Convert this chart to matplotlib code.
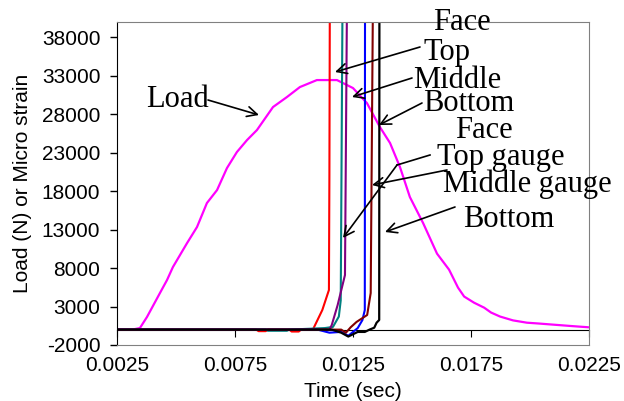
import numpy as np
import matplotlib
matplotlib.use("Agg")
import matplotlib.pyplot as plt

plt.rcParams['axes.unicode_minus'] = False

# ===================== ДАННЫЕ =====================
# Нагрузка (Load), Н
load_t = [0.0025, 0.00314, 0.00347, 0.00377, 0.00432, 0.00462, 0.00487, 0.00547,
          0.00589, 0.00631, 0.00674, 0.00716, 0.00758, 0.00801, 0.00843, 0.00911,
          0.00970, 0.01025, 0.01097, 0.01182, 0.01250, 0.01309, 0.01364, 0.01407,
          0.01449, 0.01491, 0.01547, 0.01606, 0.01657, 0.01695, 0.01721, 0.01763,
          0.01806, 0.01835, 0.01873, 0.01928, 0.01987, 0.02034, 0.02097, 0.02182,
          0.0225]
load_v = [0, 0, 200, 1640, 4760, 6450, 8140, 11260,
          13340, 16460, 18150, 21010, 23090, 24650, 25950, 28940,
          30240, 31540, 32450, 32450, 31410, 29460, 26340, 24260,
          21140, 17240, 13860, 9880, 7800, 5460, 4300, 3500,
          2850, 2220, 1700, 1200, 900, 800, 650, 450,
          300]

# Тензометры (Micro strain)
red_t = [0.0025, 0.0084, 0.0085, 0.0088, 0.0089, 0.0098, 0.0099, 0.0102, 0.0103,
         0.0108, 0.0112, 0.01148, 0.01150, 0.01152]
red_v = [0, 0, -200, -200, 0, 0, -250, -250, 0,
         0, 2550, 5150, 20000, 45000]

teal_t = [0.0025, 0.0088, 0.0089, 0.0097, 0.0098, 0.0113, 0.01165, 0.0119,
          0.01198, 0.01206]
teal_v = [0, 0, -150, -150, 0, 200, 350, 1700,
          3800, 45000]

purple_t = [0.0025, 0.0115, 0.0116, 0.01185, 0.01216, 0.01225]
purple_v = [0, 0, 600, 3200, 7100, 45000]

blue_t = [0.0025, 0.0110, 0.0115, 0.0120, 0.0123, 0.0125, 0.0127, 0.0129,
          0.01300, 0.01301]
blue_v = [0, 0, -400, -300, -800, -300, 200, 1250,
          2550, 45000]

darkred_t = [0.0025, 0.0120, 0.0122, 0.0124, 0.01265, 0.0129, 0.01310, 0.01325,
             0.01335]
darkred_v = [0, 0, -400, 300, 1000, 1500, 1900, 4760,
             45000]

black_t = [0.0025, 0.0116, 0.0120, 0.0123, 0.0125, 0.0127, 0.0130, 0.0132,
           0.0134, 0.0135, 0.01361, 0.01362]
black_v = [0, 0, -400, -900, -600, -300, -300, 0,
           250, 900, 1250, 45000]

x_ticks = [0.0025, 0.0075, 0.0125, 0.0175, 0.0225]
y_ticks = [-2000, 3000, 8000, 13000, 18000, 23000, 28000, 33000, 38000]

# ===================== ГРАФИК =====================
W, H = 624, 401
fig = plt.figure(figsize=(W / 100, H / 100), dpi=100)
ax = fig.add_axes([117 / W, 1 - 345 / H, (589 - 117) / W, (345 - 22) / H])

ax.plot(load_t, load_v, color='#FF00FF', lw=1.6)
ax.plot(red_t, red_v, color='#FF0000', lw=1.5)
ax.plot(teal_t, teal_v, color='#008080', lw=1.5)
ax.plot(purple_t, purple_v, color='#800080', lw=1.5)
ax.plot(blue_t, blue_v, color='#0000FF', lw=1.5)
ax.plot(darkred_t, darkred_v, color='#800000', lw=1.5)
ax.plot(black_t, black_v, color='black', lw=1.6)

ax.set_xlim(0.0025, 0.0225)
ax.set_ylim(-2000, 40000)
ax.set_yticks(y_ticks)
ax.set_yticklabels([str(v) for v in y_ticks])
ax.set_xticks(x_ticks)
ax.set_xticklabels([f'{t:.4f}' for t in x_ticks])

tick_font = dict(family='Liberation Sans', size=15)
for lab in ax.get_xticklabels() + ax.get_yticklabels():
    lab.set_fontfamily('Liberation Sans')
    lab.set_fontsize(15)

ax.tick_params(axis='x', length=0, pad=8)
ax.tick_params(axis='y', direction='out', length=5, width=1, pad=7)

for s in ['top', 'right', 'bottom']:
    ax.spines[s].set_color('#808080')
ax.spines['left'].set_color('black')

# ось X проходит через ноль
sec = ax.secondary_xaxis(2000 / 42000)
sec.set_xticks(x_ticks)
sec.tick_params(axis='x', direction='out', length=5, labelbottom=False)
sec.spines['bottom'].set_color('black')

ax.set_xlabel('Time (sec)', fontdict=tick_font, labelpad=5)
ax.set_ylabel('Load (N) or Micro strain', fontdict=tick_font, labelpad=7)


# ===================== ПОДПИСИ =====================
def fp(x, y):
    return (x, H - y)

ann_font = dict(family='Liberation Serif', size=22)
labels = [('Face', 433, 30), ('Top', 423, 60), ('Middle', 413, 88),
          ('Bottom', 423, 111), ('Face', 455, 138), ('Top gauge', 437, 165),
          ('Middle gauge', 443, 192), ('Bottom', 463, 227), ('Load', 146, 107)]
for txt, x, y in labels:
    fig.text(x / W, 1 - y / H, txt, ha='left', va='baseline', **ann_font)

arrows = [((420, 47), (335, 72)), ((412, 78), (352, 97)), ((422, 103), (379, 125)),
          ((397, 165), (343, 238)), ((447, 170), (372, 185)),
          ((455, 207), (385, 232)), ((208, 100), (259, 115))]
for (x0, y0), (x1, y1) in arrows:
    fig.patches.append(matplotlib.patches.FancyArrowPatch(
        fp(x0, y0), fp(x1, y1), transform=None, arrowstyle='->',
        mutation_scale=18, lw=1.2, color='black', shrinkA=0, shrinkB=0))
# излом стрелки "Top gauge"
fig.add_artist(matplotlib.lines.Line2D([430 / W, 397 / W], [1 - 155 / H, 1 - 165 / H],
                                       color='black', lw=1.2))

fig.savefig('out.png', dpi=100)
